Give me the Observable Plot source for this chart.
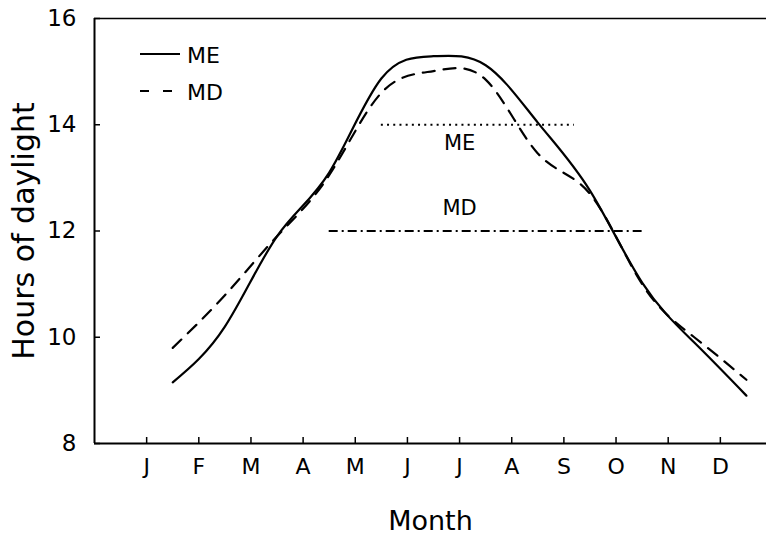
<!DOCTYPE html>
<html>
<head>
<meta charset="utf-8">
<script src="https://cdn.jsdelivr.net/npm/d3@7"></script>
<script src="https://cdn.jsdelivr.net/npm/@observablehq/plot@0.6"></script>
<style>
  body { margin: 0; background: #fff; }
  #wrap { position: relative; width: 766px; height: 536px; overflow: hidden; }
  #legend { position: absolute; left: 140px; top: 37px; font-family: "DejaVu Sans", sans-serif; font-size: 22px; color: #000; }
  #legend .row { display: flex; align-items: center; height: 37px; }
  #legend svg { display: block; margin-right: 5px; }
</style>
</head>
<body>
<div id="wrap"><div id="legend"></div></div>
<script>
// ---- data ----
const monthLabels = ["J","F","M","A","M","J","J","A","S","O","N","D"];
const monthTicks = [1,2,3,4,5,6,7,8,9,10,11,12];
const dataMonths = [1.5,2.5,3.5,4.5,5.5,6.5,7.5,8.5,9.5,10.5,11.5,12.5];
const meHours = [9.15,10.2,11.9,13.1,14.87,15.29,15.12,14.04,12.76,11.03,9.9,8.9];
const mdHours = [9.8,10.79,11.9,13.05,14.6,15.01,14.85,13.46,12.7,11.0,10.0,9.2];
const yTicks = [8,10,12,14,16];
const seriesNames = ["ME","MD"];
const seriesDash = [null, "12,9"];
const refHours = [14, 12];
const refStart = [5.5, 4.5];
const refEnd = [9.2, 10.5];
const refDash = ["2,4.2", "9,4,2,4"];
const refLabelX = [7, 7];
const refLabelDy = [19, -23];
const xTitle = "Month";
const yTitle = "Hours of daylight";

// ---- tables ----
const rows = [];
dataMonths.forEach((m, i) => {
  rows.push({series: "ME", month: m, hours: meHours[i]});
  rows.push({series: "MD", month: m, hours: mdHours[i]});
});
const refs = seriesNames.map((s, i) => ({series: s, y: refHours[i], x1: refStart[i], x2: refEnd[i], dash: refDash[i], lx: refLabelX[i], dy: refLabelDy[i]}));

const font = "DejaVu Sans, sans-serif";

const chart = Plot.plot({
  width: 766,
  height: 536,
  marginLeft: 94,
  marginTop: 18,
  marginBottom: 93,
  marginRight: 0,
  style: {fontFamily: font, color: "#000", background: "#fff", overflow: "visible"},
  x: {domain: [0, 13], range: [94, 772]},
  y: {domain: [8, 16]},
  marks: [
    Plot.ruleX([0], {stroke: "#000", strokeWidth: 2}),
    Plot.ruleY([8], {stroke: "#000", strokeWidth: 2}),
    Plot.ruleY([16], {stroke: "#000", strokeWidth: 1.5}),
    Plot.axisY({ticks: yTicks, tickSize: -6, tickPadding: 24, fontSize: 23, strokeWidth: 1.5, label: null}),
    Plot.axisX({ticks: monthTicks, tickSize: -6, tickPadding: 21, fontSize: 22, strokeWidth: 1.5,
      tickFormat: d => monthLabels[d - 1], label: null}),
    Plot.text([xTitle], {frameAnchor: "bottom", dy: 78, lineAnchor: "middle", fontSize: 27, fill: "#000", text: d => d}),
    Plot.text([yTitle], {frameAnchor: "left", dx: -70, rotate: -90, textAnchor: "middle", lineAnchor: "middle", fontSize: 30, fill: "#000", text: d => d}),
    ...seriesNames.map((s, i) => Plot.line(rows.filter(r => r.series === s), {
      x: "month", y: "hours", curve: "natural", stroke: "#000", strokeWidth: 2.2,
      strokeDasharray: seriesDash[i] || undefined
    })),
    ...refs.map(r => Plot.ruleY([r], {y: "y", x1: "x1", x2: "x2", stroke: "#000", strokeWidth: 2, strokeDasharray: r.dash})),
    ...refs.map(r => Plot.text([r], {x: "lx", y: "y", dy: r.dy, text: "series", fontSize: 21, fill: "#000"}))
  ]
});
document.getElementById("wrap").appendChild(chart);

// legend
const legend = d3.select("#legend");
seriesNames.forEach((s, i) => {
  const row = legend.append("div").attr("class", "row");
  const svg = row.append("svg").attr("width", 42).attr("height", 20);
  svg.append("line").attr("x1", 0).attr("x2", i === 0 ? 40 : 32).attr("y1", 8).attr("y2", 8)
    .attr("stroke", "#000").attr("stroke-width", 2)
    .attr("stroke-dasharray", i === 0 ? null : "9,14");
  row.append("span").text(s);
});
</script>
</body>
</html>
